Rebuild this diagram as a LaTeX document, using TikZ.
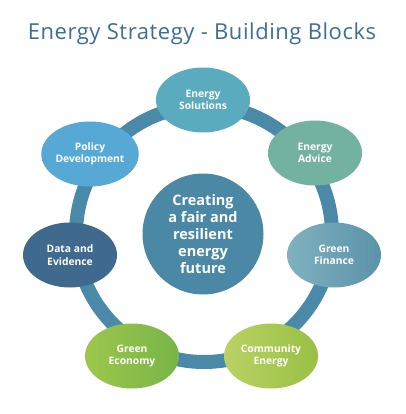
\documentclass[tikz,border=0pt]{standalone}
\usepackage{fontspec}
\setmainfont{Open Sans}
\usetikzlibrary{shapes.geometric}
\definecolor{titleblue}{HTML}{3D6E95}
\definecolor{ringblue}{HTML}{4A8AA8}
\definecolor{hubblue}{HTML}{4A88A6}
\definecolor{solcol}{HTML}{5AABBD}
\definecolor{advcol}{HTML}{72B29F}
\definecolor{finL}{HTML}{80B1C0}
\definecolor{finR}{HTML}{5A93A8}
\definecolor{comL}{HTML}{BAD264}
\definecolor{comR}{HTML}{98C043}
\definecolor{ecoL}{HTML}{9DC64B}
\definecolor{ecoR}{HTML}{78B548}
\definecolor{datcol}{HTML}{3F6A8E}
\definecolor{polcol}{HTML}{56A8D5}
\tikzset{
  block/.style={ellipse, minimum width=94pt, minimum height=65pt, inner sep=0pt,
    text=white, font=\bfseries\fontsize{10.3}{12.5}\selectfont, align=center},
  hub/.style={circle, minimum size=121pt, inner sep=0pt, fill=hubblue,
    text=white, font=\bfseries\fontsize{14.5}{16.8}\selectfont, align=center},
  ring/.style={draw=ringblue, line width=14pt}
}
\begin{document}
\begin{tikzpicture}[x=1pt,y=-1pt]
\useasboundingbox (0,0) rectangle (405,414);
\node[text=titleblue, font=\fontsize{22}{24}\selectfont\addfontfeature{LetterSpace=2.5}] (title) at (202,34) {Energy Strategy - Building Blocks};
\coordinate (ctr) at (204,234);
\draw[ring] (ctr) circle (128pt);
\node[hub] (hub) at (203,234) {Creating\\a fair and\\resilient\\energy\\future};
\node[block, fill=solcol] (sol) at (203,100) {Energy\\Solutions};
\node[block, fill=advcol] (adv) at (315,153) {Energy\\Advice};
\node[block, left color=finL, right color=finR] (fin) at (334,255) {Green\\Finance};
\node[block, left color=comL, right color=comR] (com) at (271,356) {Community\\Energy};
\node[block, left color=ecoL, right color=ecoR] (eco) at (132,356) {Green\\Economy};
\node[block, fill=datcol] (dat) at (70,255) {Data and\\Evidence};
\node[block, fill=polcol] (pol) at (90,154) {Policy\\Development};
\end{tikzpicture}
\end{document}
